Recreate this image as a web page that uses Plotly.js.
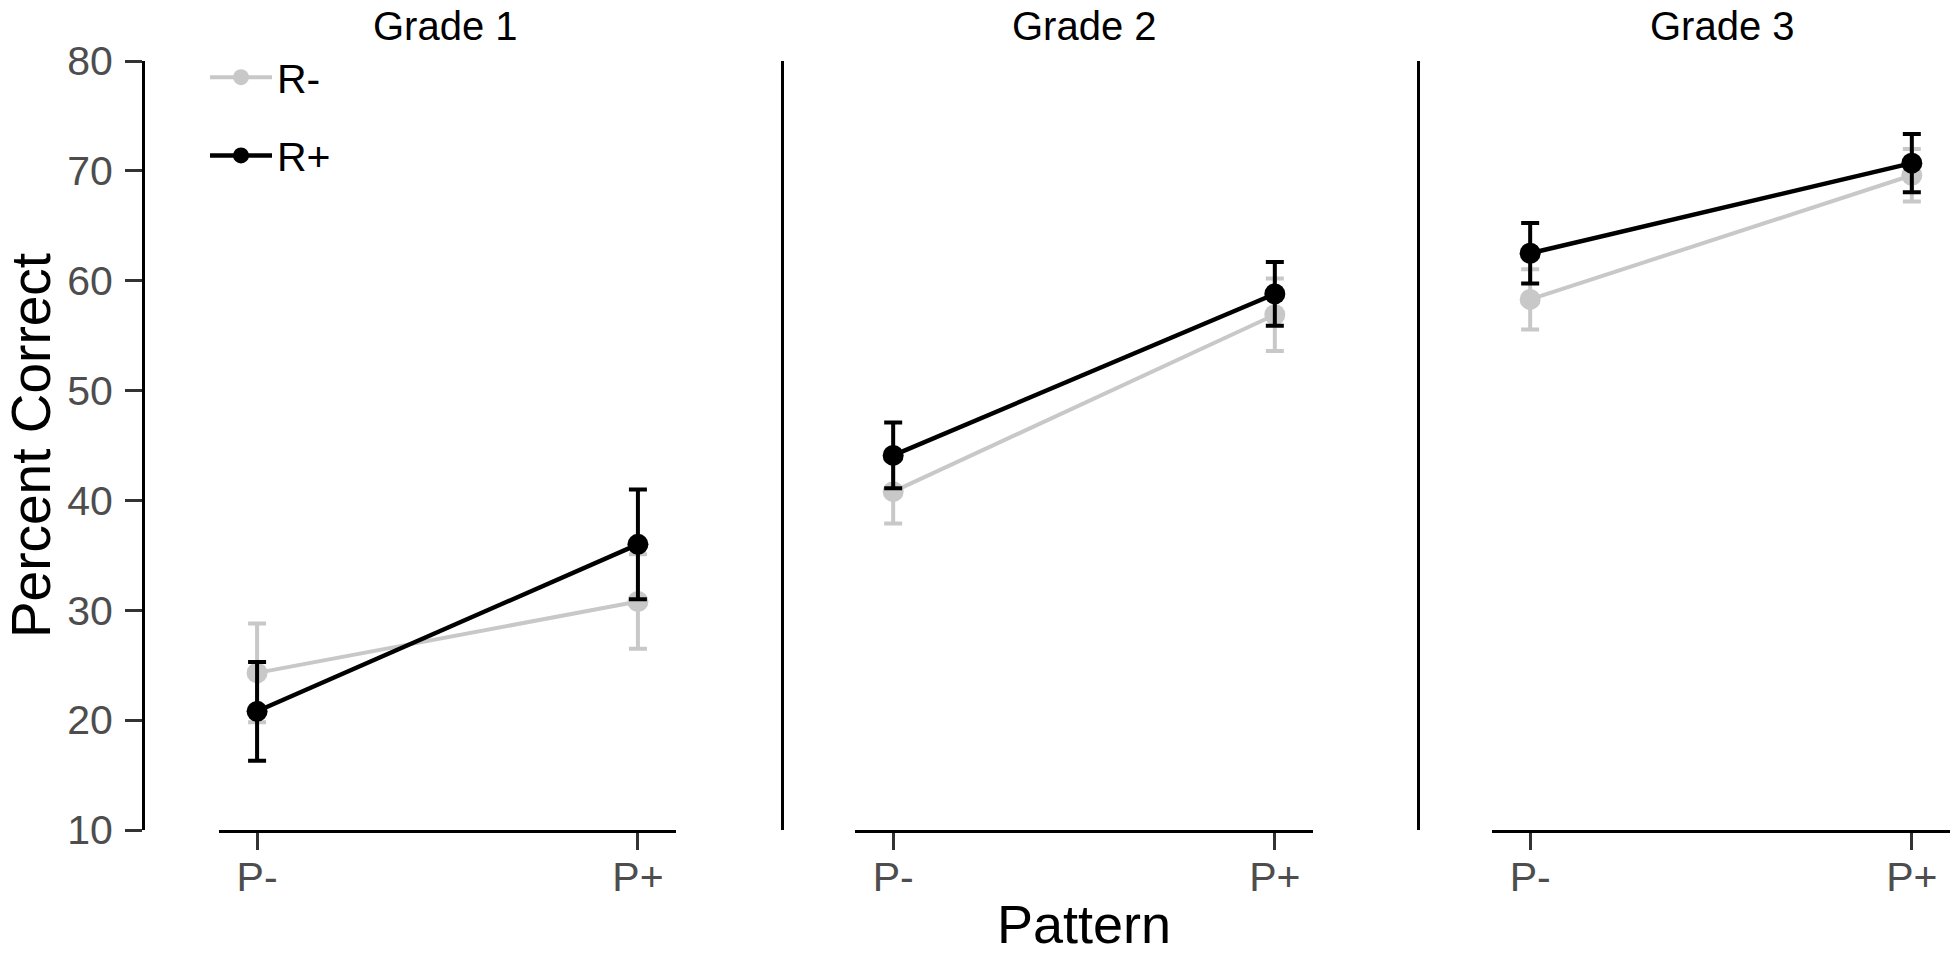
<!DOCTYPE html>
<html>
<head>
<meta charset="utf-8">
<script src="https://cdn.plot.ly/plotly-3.0.1.min.js"></script>
<style>
  body { margin: 0; background: #fff; }
  #plot-area { width: 1955px; height: 954px; }
</style>
</head>
<body>
<div id="plot-area"></div>
<script>
const grades = ["Grade 1", "Grade 2", "Grade 3"]
const patterns = ["P-", "P+"]
const seriesNames = ["R-", "R+"]

// mean percent correct per grade, [P-, P+]
const rMinus = [[24.3, 30.8], [40.8, 56.9], [58.3, 69.6]]
const rPlus = [[20.8, 36.0], [44.1, 58.8], [62.5, 70.7]]
// standard errors
const rMinusErr = [[4.5, 4.3], [2.9, 3.3], [2.75, 2.4]]
const rPlusErr = [[4.5, 5.0], [3.0, 2.9], [2.75, 2.65]]

const yTicks = [10, 20, 30, 40, 50, 60, 70, 80]

const W = 1955
const H = 954
const FONT = "Liberation Sans, Arial, Helvetica, sans-serif"
const GREY = "#c8c8c8"

showPlot()

function showPlot() {
  const colors = [GREY, "#000000"]
  const widths = [4, 4.4]
  const values = [rMinus, rPlus]
  const errors = [rMinusErr, rPlusErr]

  let traces = []
  for (let g = 0; g < grades.length; g++) {
    const suffix = g === 0 ? "" : String(g + 1)
    for (let s = 0; s < seriesNames.length; s++) {
      traces.push({
        name: seriesNames[s],
        legendgroup: seriesNames[s],
        showlegend: g === 0,
        x: patterns,
        y: values[s][g],
        xaxis: "x" + suffix,
        yaxis: "y" + suffix,
        type: "scatter",
        mode: "lines+markers",
        line: {color: colors[s], width: widths[s]},
        marker: {color: colors[s], size: 21},
        error_y: {
          type: "data",
          array: errors[s][g],
          visible: true,
          color: colors[s],
          thickness: 4,
          width: 9
        }
      })
    }
  }

  // panel pixel boxes (capped x axis lines and the y axis lines)
  const xLines = [[219, 676], [855, 1313], [1492, 1950]]
  const yLinePos = [143, 782, 1418]
  const titleCenters = [445, 1084, 1722]
  const yDomain = [1 - 830 / H, 1 - 61 / H]

  const tickFont = {family: FONT, size: 41, color: "#4d4d4d"}

  let layout = {
    width: W,
    height: H,
    margin: {l: 0, r: 0, t: 0, b: 0},
    paper_bgcolor: "#ffffff",
    plot_bgcolor: "rgba(0,0,0,0)",
    font: {family: FONT, color: "#000000"},
    showlegend: true,
    legend: {
      x: 205 / W,
      y: 1 - 44 / H,
      xanchor: "left",
      yanchor: "top",
      font: {family: FONT, size: 41, color: "#000000"},
      bgcolor: "rgba(0,0,0,0)",
      tracegroupgap: 22,
      itemwidth: 62
    },
    annotations: []
  }

  for (let g = 0; g < grades.length; g++) {
    const suffix = g === 0 ? "" : String(g + 1)
    const xa = {
      domain: [xLines[g][0] / W, xLines[g][1] / W],
      range: [-0.1, 1.1],
      type: "category",
      anchor: "y" + suffix,
      showline: true,
      linecolor: "#000000",
      linewidth: 2.5,
      ticks: "outside",
      ticklen: 17,
      tickwidth: 3,
      tickcolor: "#333333",
      tickfont: tickFont,
      ticklabelstandoff: -8,
      showgrid: false,
      zeroline: false,
      fixedrange: true
    }
    if (g === 1) {
      xa.title = {text: "Pattern", font: {family: FONT, size: 54, color: "#000000"}, standoff: 24}
    }
    const ya = {
      domain: yDomain,
      range: [10, 80],
      anchor: "free",
      position: yLinePos[g] / W,
      showline: true,
      linecolor: "#000000",
      linewidth: 2.5,
      showgrid: false,
      zeroline: false,
      fixedrange: true
    }
    if (g === 0) {
      ya.tickvals = yTicks
      ya.ticks = "outside"
      ya.ticklen = 17
      ya.tickwidth = 3
      ya.tickcolor = "#333333"
      ya.tickfont = tickFont
      ya.ticklabelstandoff = 4
      ya.title = {text: "Percent Correct", font: {family: FONT, size: 55, color: "#000000"}, standoff: 16}
    } else {
      ya.matches = "y"
      ya.ticks = ""
      ya.showticklabels = false
    }
    layout["xaxis" + suffix] = xa
    layout["yaxis" + suffix] = ya

    layout.annotations.push({
      text: grades[g],
      xref: "paper",
      yref: "paper",
      x: titleCenters[g] / W,
      y: 1 - 26 / H,
      xanchor: "center",
      yanchor: "middle",
      showarrow: false,
      font: {family: FONT, size: 40, color: "#000000"}
    })
  }

  Plotly.newPlot("plot-area", traces, layout, {displayModeBar: false, staticPlot: true})
}
</script>
</body>
</html>
